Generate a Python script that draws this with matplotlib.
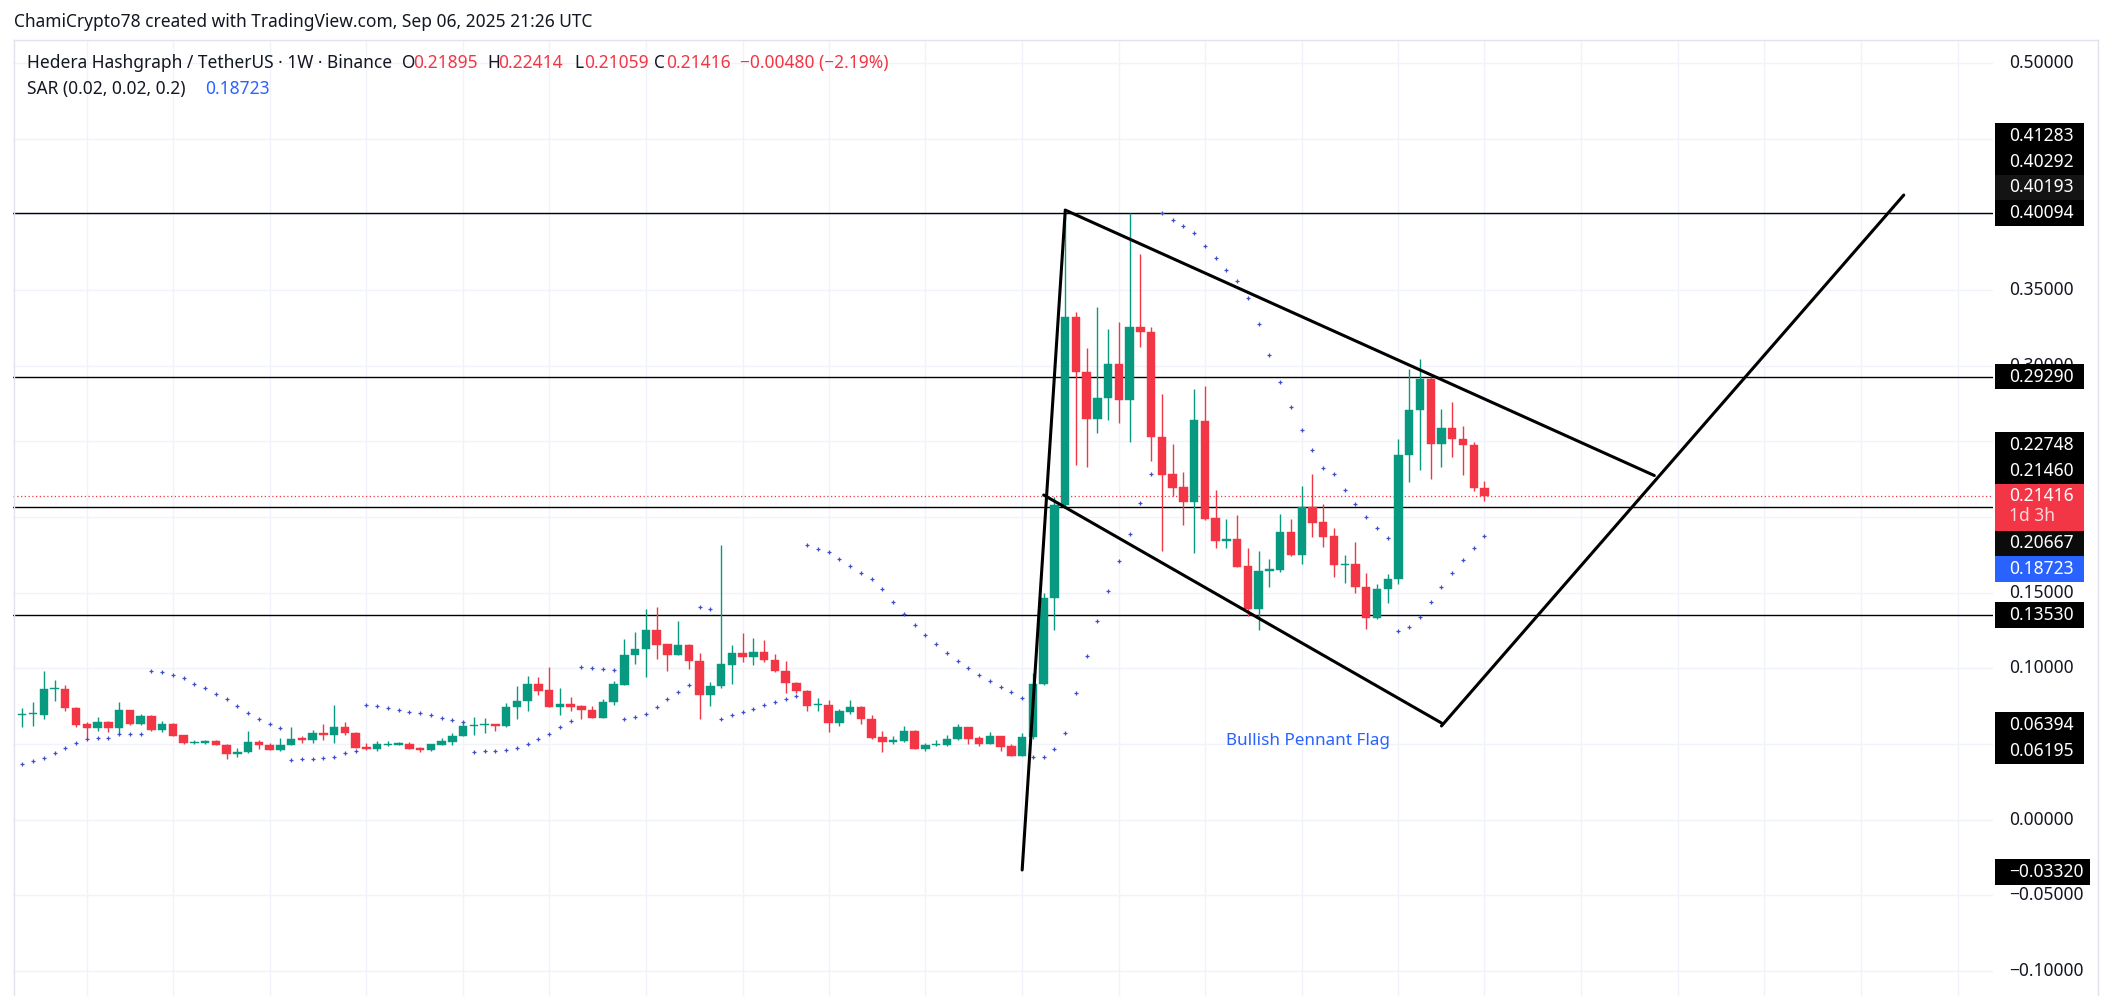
import numpy as np
import matplotlib.pyplot as plt
from matplotlib.patches import Rectangle

# weekly HBAR/USDT candles (oldest first)
opens = [0.0692, 0.0697, 0.0694, 0.0862, 0.0862, 0.0741, 0.0630, 0.0608, 0.0646, 0.0608,
         0.0725, 0.0634, 0.0685, 0.0595, 0.0632, 0.0559, 0.0507, 0.0510, 0.0518, 0.0496,
         0.0436, 0.0445, 0.0514, 0.0496, 0.0461, 0.0496, 0.0540, 0.0527, 0.0571, 0.0560,
         0.0611, 0.0576, 0.0482, 0.0467, 0.0494, 0.0496, 0.0503, 0.0474, 0.0461, 0.0496,
         0.0516, 0.0555, 0.0621, 0.0624, 0.0626, 0.0620, 0.0743, 0.0782, 0.0897, 0.0855,
         0.0747, 0.0764, 0.0751, 0.0727, 0.0674, 0.0776, 0.0893, 0.1089, 0.1126, 0.1254,
         0.1161, 0.1089, 0.1155, 0.1051, 0.0824, 0.0884, 0.1025, 0.1100, 0.1077, 0.1106,
         0.1056, 0.0983, 0.0905, 0.0851, 0.0757, 0.0760, 0.0641, 0.0715, 0.0743, 0.0668,
         0.0544, 0.0516, 0.0520, 0.0588, 0.0469, 0.0492, 0.0492, 0.0531, 0.0613, 0.0538,
         0.0502, 0.0553, 0.0485, 0.0423, 0.0547, 0.0895, 0.1463, 0.2083, 0.3322, 0.2958,
         0.2649, 0.2786, 0.3009, 0.2776, 0.3256, 0.3226, 0.2528, 0.2285, 0.2199, 0.2103,
         0.2634, 0.1994, 0.1840, 0.1855, 0.1678, 0.1394, 0.1647, 0.1650, 0.1901, 0.1752,
         0.2067, 0.1968, 0.1875, 0.1681, 0.1690, 0.1536, 0.1331, 0.1523, 0.1589, 0.2408,
         0.2706, 0.2911, 0.2481, 0.2587, 0.2514, 0.2474, 0.21895]
highs = [0.0736, 0.0776, 0.0983, 0.0923, 0.0890, 0.0745, 0.0648, 0.0677, 0.0650, 0.0778,
         0.0728, 0.0699, 0.0690, 0.0652, 0.0638, 0.0563, 0.0525, 0.0525, 0.0525, 0.0500,
         0.0474, 0.0586, 0.0527, 0.0507, 0.0540, 0.0611, 0.0553, 0.0593, 0.0632, 0.0758,
         0.0648, 0.0580, 0.0505, 0.0520, 0.0518, 0.0511, 0.0516, 0.0478, 0.0503, 0.0540,
         0.0573, 0.0652, 0.0681, 0.0675, 0.0628, 0.0769, 0.0884, 0.0950, 0.0943, 0.1009,
         0.0870, 0.0811, 0.0756, 0.0749, 0.0798, 0.0917, 0.1194, 0.1241, 0.1393, 0.1408,
         0.1163, 0.1313, 0.1163, 0.1102, 0.0910, 0.1816, 0.1153, 0.1234, 0.1201, 0.1188,
         0.1095, 0.1047, 0.0907, 0.0860, 0.0802, 0.0791, 0.0730, 0.0791, 0.0751, 0.0692,
         0.0584, 0.0553, 0.0617, 0.0592, 0.0509, 0.0525, 0.0560, 0.0630, 0.0615, 0.0553,
         0.0580, 0.0555, 0.0500, 0.0575, 0.0968, 0.1500, 0.2133, 0.4019, 0.3355, 0.3115,
         0.3388, 0.3241, 0.3292, 0.4010, 0.3740, 0.3256, 0.2816, 0.2482, 0.2298, 0.2849,
         0.2869, 0.2179, 0.1986, 0.2012, 0.1799, 0.1779, 0.1723, 0.2020, 0.1990, 0.2206,
         0.2285, 0.2087, 0.1928, 0.1752, 0.1836, 0.1628, 0.1558, 0.1624, 0.2514, 0.2981,
         0.3047, 0.2924, 0.2712, 0.2761, 0.2602, 0.2499, 0.22414]
lows = [0.0615, 0.0621, 0.0668, 0.0787, 0.0720, 0.0615, 0.0533, 0.0588, 0.0582, 0.0564,
        0.0625, 0.0626, 0.0588, 0.0582, 0.0550, 0.0498, 0.0503, 0.0498, 0.0492, 0.0399,
        0.0416, 0.0443, 0.0470, 0.0459, 0.0455, 0.0494, 0.0509, 0.0509, 0.0529, 0.0509,
        0.0560, 0.0474, 0.0461, 0.0455, 0.0490, 0.0494, 0.0465, 0.0450, 0.0452, 0.0494,
        0.0496, 0.0553, 0.0560, 0.0575, 0.0586, 0.0615, 0.0668, 0.0720, 0.0824, 0.0745,
        0.0694, 0.0720, 0.0668, 0.0672, 0.0672, 0.0760, 0.0890, 0.1031, 0.0943, 0.1062,
        0.0985, 0.1087, 0.0996, 0.0668, 0.0751, 0.0870, 0.0899, 0.1044, 0.1025, 0.1044,
        0.0974, 0.0839, 0.0839, 0.0720, 0.0720, 0.0582, 0.0621, 0.0698, 0.0634, 0.0535,
        0.0447, 0.0500, 0.0516, 0.0467, 0.0456, 0.0485, 0.0485, 0.0527, 0.0498, 0.0489,
        0.0500, 0.0452, 0.0419, 0.0419, 0.0533, 0.0890, 0.1256, 0.2060, 0.2343, 0.2331,
        0.2558, 0.2644, 0.2624, 0.2498, 0.3122, 0.2368, 0.1774, 0.2138, 0.1946, 0.1761,
        0.1984, 0.1794, 0.1799, 0.1668, 0.1349, 0.1253, 0.1541, 0.1640, 0.1745, 0.1690,
        0.1866, 0.1805, 0.1606, 0.1562, 0.1501, 0.1258, 0.1327, 0.1430, 0.1558, 0.2232,
        0.2311, 0.2254, 0.2333, 0.2399, 0.2280, 0.2175, 0.21059]
closes = [0.0694, 0.0702, 0.0864, 0.0866, 0.0740, 0.0628, 0.0608, 0.0646, 0.0608, 0.0725,
          0.0634, 0.0685, 0.0595, 0.0632, 0.0555, 0.0507, 0.0513, 0.0518, 0.0494, 0.0436,
          0.0445, 0.0514, 0.0496, 0.0461, 0.0496, 0.0533, 0.0527, 0.0571, 0.0560, 0.0611,
          0.0576, 0.0474, 0.0467, 0.0498, 0.0498, 0.0503, 0.0469, 0.0461, 0.0498, 0.0520,
          0.0555, 0.0621, 0.0624, 0.0626, 0.0622, 0.0743, 0.0784, 0.0897, 0.0853, 0.0747,
          0.0764, 0.0747, 0.0727, 0.0674, 0.0778, 0.0897, 0.1089, 0.1128, 0.1254, 0.1155,
          0.1089, 0.1155, 0.1051, 0.0824, 0.0884, 0.1029, 0.1100, 0.1077, 0.1106, 0.1056,
          0.0983, 0.0905, 0.0851, 0.0753, 0.0762, 0.0641, 0.0718, 0.0743, 0.0668, 0.0540,
          0.0516, 0.0520, 0.0586, 0.0469, 0.0492, 0.0496, 0.0531, 0.0613, 0.0535, 0.0502,
          0.0553, 0.0482, 0.0423, 0.0547, 0.0895, 0.1463, 0.2078, 0.3322, 0.2958, 0.2649,
          0.2786, 0.3009, 0.2776, 0.3256, 0.3226, 0.2528, 0.2280, 0.2194, 0.2103, 0.2639,
          0.1989, 0.1840, 0.1855, 0.1673, 0.1394, 0.1647, 0.1657, 0.1901, 0.1752, 0.2067,
          0.1963, 0.1871, 0.1681, 0.1690, 0.1536, 0.1331, 0.1523, 0.1589, 0.2408, 0.2706,
          0.2911, 0.2481, 0.2587, 0.2514, 0.2474, 0.2190, 0.21416]
# parabolic SAR dots (0.02, 0.02, 0.2)
sar = [0.0370, 0.0386, 0.0408, 0.0439, 0.0472, 0.0505, 0.0533, 0.0538, 0.0538, 0.0564,
       0.0564, 0.0564, 0.0981, 0.0974, 0.0954, 0.0934, 0.0895, 0.0868, 0.0829, 0.0796,
       0.0749, 0.0703, 0.0663, 0.0630, 0.0604, 0.0392, 0.0399, 0.0399, 0.0406, 0.0412,
       0.0439, 0.0452, 0.0756, 0.0749, 0.0736, 0.0723, 0.0710, 0.0703, 0.0690, 0.0670,
       0.0657, 0.0644, 0.0445, 0.0452, 0.0452, 0.0459, 0.0472, 0.0498, 0.0531, 0.0564,
       0.0611, 0.0650, 0.1007, 0.1001, 0.0994, 0.0987, 0.0663, 0.0677, 0.0697, 0.0743,
       0.0796, 0.0842, 0.0888, 0.1404, 0.1391, 0.0663, 0.0690, 0.0710, 0.0730, 0.0756,
       0.0776, 0.0796, 0.0815, 0.1816, 0.1787, 0.1767, 0.1721, 0.1675, 0.1628, 0.1589,
       0.1523, 0.1437, 0.1357, 0.1285, 0.1219, 0.1159, 0.1100, 0.1047, 0.1001, 0.0954,
       0.0915, 0.0875, 0.0842, 0.0802, 0.0412, 0.0412, 0.0465, 0.0571, 0.0835, 0.1080,
       0.1311, 0.1513, 0.1708, 0.1885, 0.2095, 0.2288, 0.4010, 0.3962, 0.3922, 0.3876,
       0.3790, 0.3709, 0.3631, 0.3558, 0.3446, 0.3274, 0.3069, 0.2891, 0.2725, 0.2573,
       0.2441, 0.2322, 0.2283, 0.2177, 0.2084, 0.1998, 0.1926, 0.1860, 0.1245, 0.1272,
       0.1338, 0.1437, 0.1536, 0.1628, 0.1714, 0.1794, 0.18723]

# horizontal levels drawn on the chart
levels = [0.40094, 0.29290, 0.20667, 0.13530]
last_price = 0.21416
sar_last = 0.18723

# trend-line drawings (bar index, price)
flagpole = ([93, 97], [-0.03320, 0.40193])
upper_line = ([97, 151.8], [0.40292, 0.22748])
lower_line = ([95, 132], [0.21460, 0.06394])
breakout_line = ([132, 175], [0.06195, 0.41283])
pattern_label = "Bullish Pennant Flag"

# price scale labels (those hidden under the boxes are left out)
price_ticks = [-0.10, -0.05, 0.00, 0.05, 0.10, 0.15, 0.20, 0.25, 0.30, 0.35, 0.40, 0.45, 0.50]
shown_ticks = [-0.10, -0.05, 0.00, 0.10, 0.15, 0.30, 0.35, 0.50]
box_values = [0.41283, 0.40292, 0.40193, 0.40094, 0.29290, 0.22748, 0.21460,
              0.20667, 0.18723, 0.13530, 0.06394, 0.06195, -0.03320]
time_grid = [6, 14, 23, 32, 41, 49, 58, 67, 75, 84, 93, 102, 110, 119, 128, 136,
             145, 154, 162, 171, 180]

GREEN = '#089981'
RED = '#f23645'
BLUE = '#2962ff'
SAR_C = '#3d4fd0'
GRID = '#f0f3fa'
TEXT = '#131722'
FS = 12.5

W, H = 2114, 996
plt.rcParams['font.family'] = ['Noto Sans', 'DejaVu Sans']
fig = plt.figure(figsize=(W / 100, H / 100), dpi=100)


def fx(x):
    return x / W


def fy(y):
    return 1 - y / H


# plot area in pixels
LP, RP, TP, BP = 13, 1993, 40, 996
YMIN, YMAX = -0.1165, 0.5153
ax = fig.add_axes([fx(LP), fy(BP), (RP - LP) / W, (BP - TP) / H])
ax.set_xlim(-0.865, 183.3)
ax.set_ylim(YMIN, YMAX)
ax.set_xticks([])
ax.set_yticks([])
for s in ax.spines.values():
    s.set_visible(False)


def py(p):
    return TP + (YMAX - p) / (YMAX - YMIN) * (BP - TP)


for p in price_ticks:
    ax.axhline(p, color=GRID, lw=1, zorder=0)
for t in time_grid:
    ax.axvline(t, color=GRID, lw=1, zorder=0)

o = np.array(opens)
h = np.array(highs)
l = np.array(lows)
c = np.array(closes)
idx = np.arange(len(o))
up = c >= o
cols = np.where(up, GREEN, RED)
ax.vlines(idx, l, h, colors=cols, lw=1, zorder=3)
body_lo = np.minimum(o, c)
body_h = np.maximum(np.abs(c - o), 0.0008)
ax.bar(idx, body_h, bottom=body_lo, width=0.78, color=cols, edgecolor=cols, lw=0.3, zorder=4)

ax.scatter(idx, sar, marker='+', s=9, color=SAR_C, linewidths=0.9, zorder=5)

for lv in levels:
    ax.axhline(lv, color='black', lw=1, zorder=2)
ax.axhline(last_price, color=RED, lw=0.9, ls=(0, (1, 2)), zorder=2)

for xs, ys in [flagpole, upper_line, lower_line, breakout_line]:
    ax.plot(xs, ys, color='black', lw=2.2, solid_capstyle='round', zorder=6)
ax.text(119.6, 0.0517, pattern_label, color=BLUE, fontsize=12.3, ha='center', va='center', zorder=6)

# outer frame
FR = '#e0e3eb'
fig.add_artist(plt.Line2D([fx(14), fx(2098)], [fy(40), fy(40)], color=FR, lw=1))
fig.add_artist(plt.Line2D([fx(14), fx(14)], [fy(40), fy(996)], color=FR, lw=1))
fig.add_artist(plt.Line2D([fx(2098), fx(2098)], [fy(40), fy(996)], color=FR, lw=1))

# price scale tick labels
for p in shown_ticks:
    s = f"{p:.5f}".replace('-', '\u2212')
    if p == 0:
        s = "0.00000"
    fig.text(fx(2009), fy(py(p)), s, fontsize=FS, color=TEXT, va='center', ha='left', zorder=5)

# stacked price boxes (pixel shifts keep them from overlapping)
box_shift = [-58.8, -48.2, -24.1, 0, 0, -30.5, -24.0, 36.5, 32.6, 0, 2, 25, 2]
box_bg = ['#000000', '#000000', '#141414', '#000000', '#000000', '#000000', '#000000',
          '#0b0b0b', BLUE, '#000000', '#000000', '#000000', '#000000']
BH = 25.6
for v, sh, bg in zip(box_values, box_shift, box_bg):
    yc = py(v) + sh
    s = f"{v:.5f}".replace('-', '\u2212')
    right = 2090 if v < 0 else 2084
    fig.add_artist(Rectangle((fx(1995), fy(yc + BH / 2)), (right - 1995) / W, BH / H,
                             transform=fig.transFigure, facecolor=bg, edgecolor='none', zorder=6))
    fig.text(fx(2009), fy(yc), s, fontsize=FS, color='white', va='center', ha='left', zorder=7)

# last price box with countdown
yc = py(last_price)
fig.add_artist(Rectangle((fx(1995), fy(yc + 35)), (2084 - 1995) / W, 47 / H,
                         transform=fig.transFigure, facecolor=RED, edgecolor='none', zorder=6))
fig.text(fx(2009), fy(yc), f"{last_price:.5f}", fontsize=FS, color='white', va='center', zorder=7)
fig.text(fx(2009), fy(yc + 20.5), "1d 3h", fontsize=FS, color='#ffd6da', va='center', zorder=7)

# header
fig.text(fx(14), fy(21.6), "ChamiCrypto78 created with TradingView.com, Sep 06, 2025 21:26 UTC",
         fontsize=FS, color=TEXT, va='center')
header = [(27, "Hedera Hashgraph / TetherUS \u00b7 1W \u00b7 Binance", TEXT),
          (402, "O", TEXT), (413, f"{opens[-1]:.5f}", RED),
          (487, "H", TEXT), (498, f"{highs[-1]:.5f}", RED),
          (574, "L", TEXT), (584, f"{lows[-1]:.5f}", RED),
          (654, "C", TEXT), (666, f"{closes[-1]:.5f}", RED),
          (740, "\u22120.00480 (\u22122.19%)", RED)]
for x, s, col in header:
    fig.text(fx(x), fy(63), s, fontsize=FS, color=col, va='center')
fig.text(fx(27), fy(89), "SAR (0.02, 0.02, 0.2)", fontsize=FS, color=TEXT, va='center')
fig.text(fx(205), fy(89), f"{sar_last:.5f}", fontsize=FS, color=BLUE, va='center')

fig.savefig('out.png', dpi=100)
